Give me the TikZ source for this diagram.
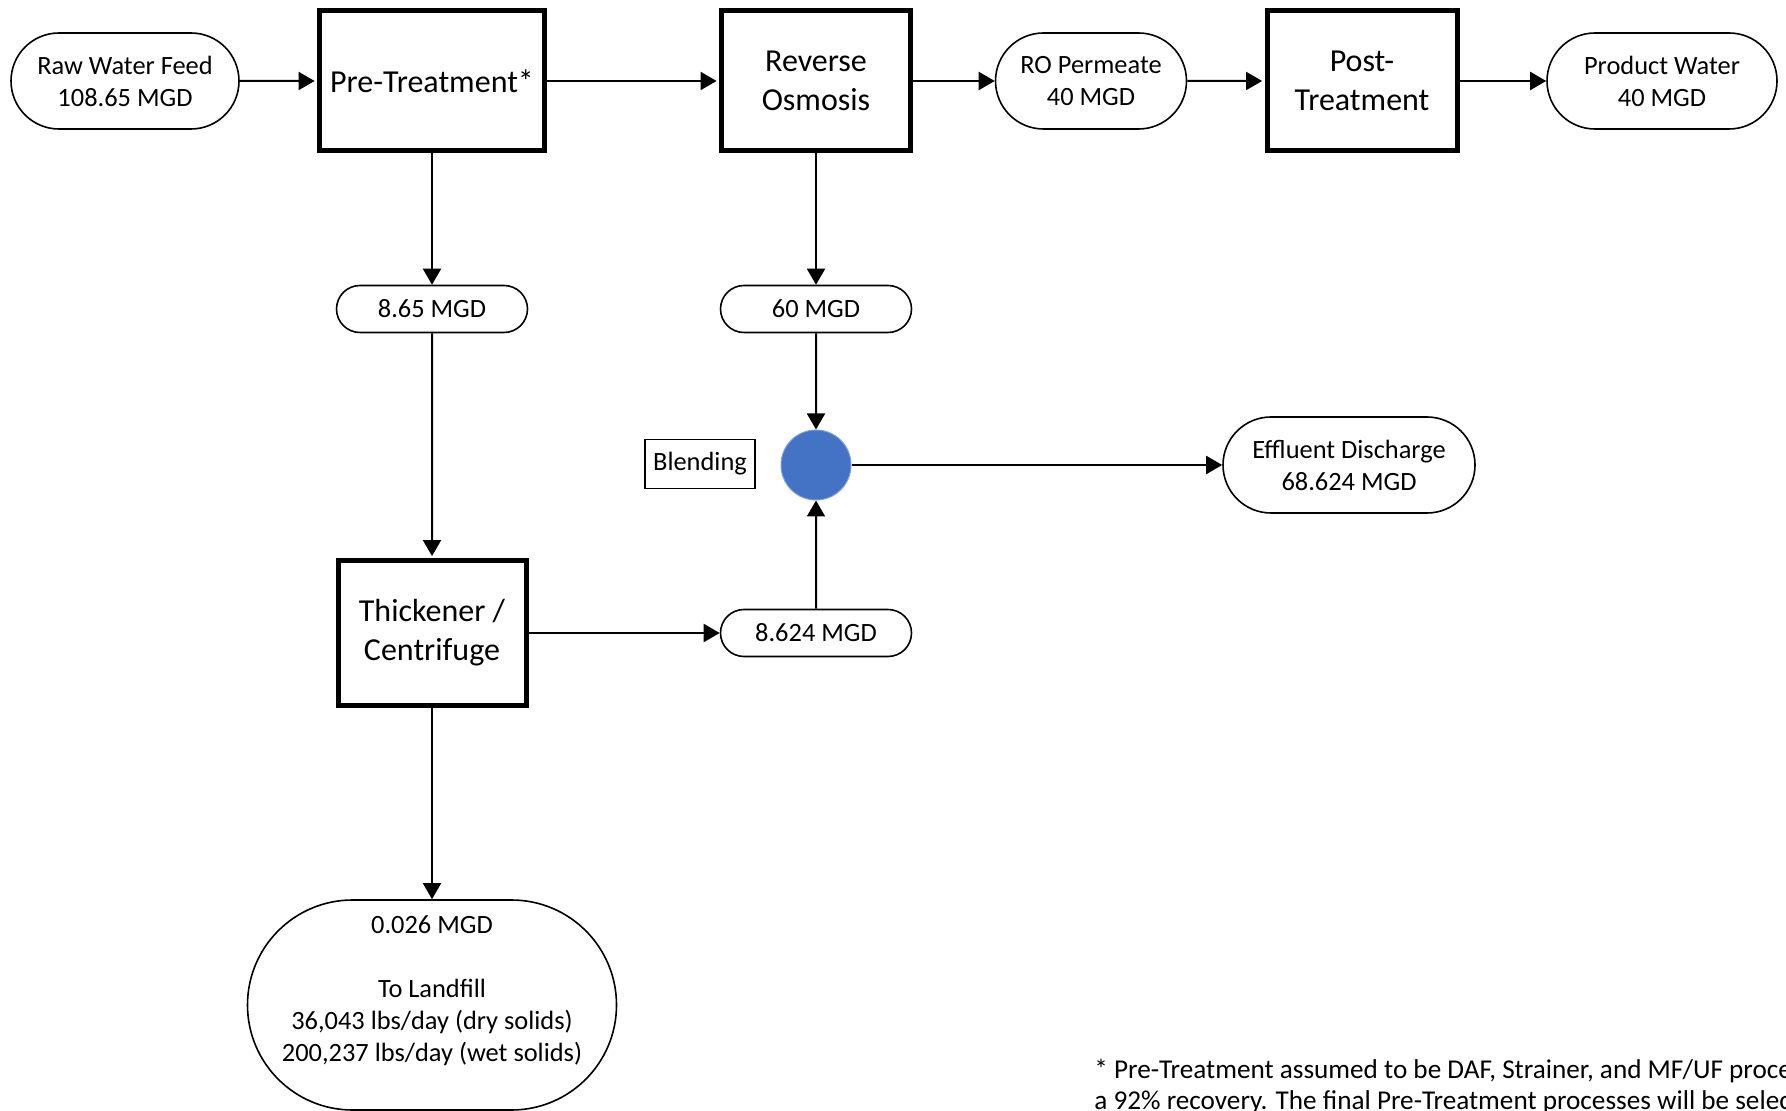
\documentclass[tikz,border=0pt]{standalone}
\usepackage{fontspec}
\setmainfont{Carlito}
\usetikzlibrary{shapes.misc,arrows.meta}
\definecolor{blendblue}{HTML}{4472C4}
\definecolor{blendedge}{HTML}{7F9FD8}
\begin{document}
\begin{tikzpicture}[x=0.5pt,y=-0.5pt,
  sm/.style={font=\fontsize{13.2pt}{16pt}\selectfont, align=center},
  big/.style={font=\fontsize{16pt}{19.5pt}\selectfont, align=center},
  pill/.style={sm, draw, line width=0.8pt, rounded rectangle, inner sep=0pt},
  proc/.style={big, draw, line width=2.5pt, rectangle, inner sep=0pt, minimum height=70pt},
  flow/.style={line width=1pt, -{Triangle[length=8pt,width=9pt]}},
  toproc/.style={flow, shorten >=1.2pt},
]
\path[use as bounding box] (0,0) rectangle (1786,1111);
\clip (0,0) rectangle (1786,1111);

\node[pill, minimum width=114pt, minimum height=48pt] (raw) at (125,81) {Raw Water Feed\\108.65 MGD};
\node[proc, minimum width=112.5pt] (pre) at (432,81) {Pre-Treatment*};
\node[proc, minimum width=94.5pt] (ro) at (816,81) {Reverse\\Osmosis};
\node[pill, minimum width=95.5pt, minimum height=48pt] (perm) at (1091,81) {RO Permeate\\40 MGD};
\node[proc, minimum width=95pt] (post) at (1362,81) {Post-\\Treatment};
\node[pill, minimum width=115pt, minimum height=48pt] (prod) at (1662,81) {Product Water\\40 MGD};

\node[pill, minimum width=95.5pt, minimum height=23.5pt] (q1) at (432,309) {8.65 MGD};
\node[pill, minimum width=95.5pt, minimum height=23.5pt] (q2) at (816,309) {60 MGD};

\node[circle, fill=blendblue, draw=blendedge, line width=0.5pt, minimum size=35pt, inner sep=0pt] (mix) at (816,465) {};
\node[sm, draw, line width=0.75pt, minimum width=55pt, minimum height=24.5pt, inner sep=0pt] (blab) at (700,464) {Blending};
\node[pill, minimum width=126pt, minimum height=48pt] (eff) at (1349,465) {Effluent Discharge\\68.624 MGD};

\node[proc, minimum width=94pt, minimum height=72pt] (thick) at (432,633) {Thickener /\\Centrifuge};
\node[pill, minimum width=95.5pt, minimum height=23.5pt] (q3) at (816,633) {8.624 MGD};

\node[pill, minimum width=184.5pt, minimum height=105pt] (land) at (432,1005) {};
\node[sm, inner sep=0pt] (landtext) at (432,991) {0.026 MGD\\[16pt]To Landfill\\36,043 lbs/day (dry solids)\\200,237 lbs/day (wet solids)};

\node[font=\fontsize{13.6pt}{15.2pt}\selectfont, align=left, anchor=north west, inner sep=0pt] (note) at (1094,1059)
  {* Pre-Treatment assumed to be DAF, Strainer, and MF/UF processes with\\a 92\% recovery. The final Pre-Treatment processes will be selected};

\draw[toproc] (raw) -- (pre);
\draw[toproc] (pre) -- (ro);
\draw[flow] (ro) -- (perm);
\draw[toproc] (perm) -- (post);
\draw[flow] (post) -- (prod);
\draw[flow] (pre) -- (q1);
\draw[toproc] (q1) -- (thick);
\draw[flow] (ro) -- (q2);
\draw[flow] (q2) -- (mix);
\draw[flow] (mix) -- (eff);
\draw[flow] (thick) -- (q3);
\draw[flow] (q3) -- (mix);
\draw[flow] (thick) -- (land);
\end{tikzpicture}
\end{document}
